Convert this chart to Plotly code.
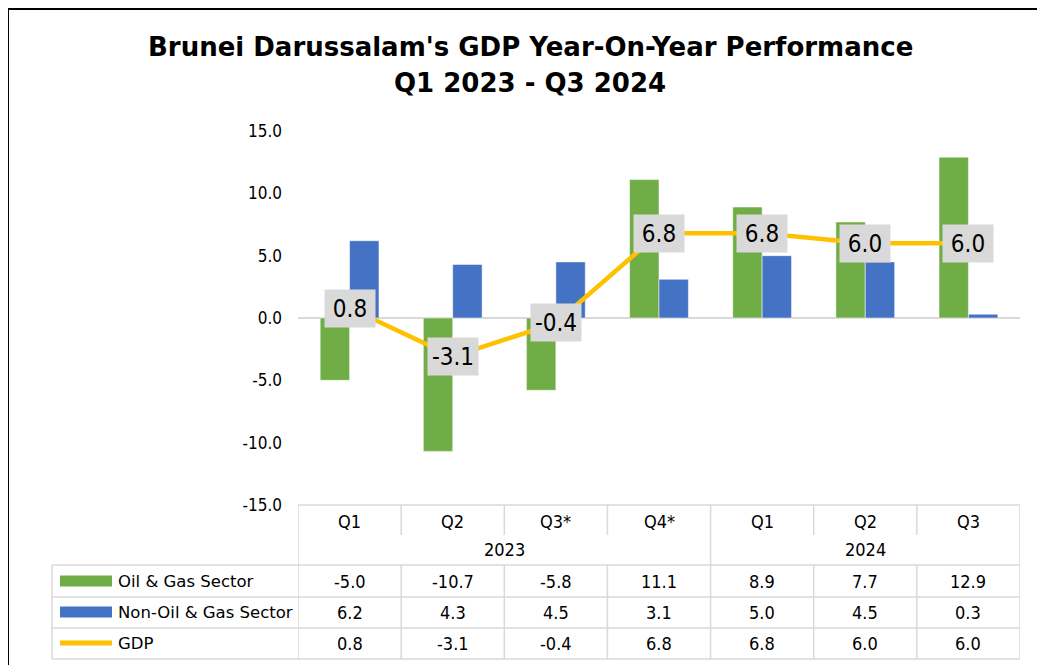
import plotly.graph_objects as go

quarters = ["Q1", "Q2", "Q3*", "Q4*", "Q1", "Q2", "Q3"]
years = ["2023", "2024"]
year_span = [(0, 3), (4, 6)]
oil_gas = [-5.0, -10.7, -5.8, 11.1, 8.9, 7.7, 12.9]
non_oil = [6.2, 4.3, 4.5, 3.1, 5.0, 4.5, 0.3]
gdp = [0.8, -3.1, -0.4, 6.8, 6.8, 6.0, 6.0]
series_names = ["Oil & Gas Sector", "Non-Oil & Gas Sector", "GDP"]
yticks = [-15, -10, -5, 0, 5, 10, 15]
ytick_text = [f"{v:.1f}" for v in yticks]

GREEN = "#70AD47"
BLUE = "#4472C4"
GOLD = "#FFC000"
GRID = "#D9D9D9"
FONT = "DejaVu Sans Condensed, DejaVu Sans, sans-serif"
FONT_W = "DejaVu Sans, sans-serif"

OFF = 8  # page body margin
PAGE_W, PAGE_H = 1045, 665
W, H = PAGE_W - OFF, PAGE_H - OFF
# plot area in page pixel coordinates
L, R, T, B = 298, 1020, 131, 505
PW, PH = R - L, B - T


def px(x):
    return (x - L) / PW


def py(y):
    return (B - y) / PH


xs = list(range(len(quarters)))

fig = go.Figure()
fig.add_trace(go.Bar(x=xs, y=oil_gas, name=series_names[0],
                     marker=dict(color=GREEN, line=dict(color="rgba(255,255,255,0.5)", width=1))))
fig.add_trace(go.Bar(x=xs, y=non_oil, name=series_names[1],
                     marker=dict(color=BLUE, line=dict(color="rgba(255,255,255,0.5)", width=1))))
fig.add_trace(go.Scatter(x=xs, y=gdp, name=series_names[2], mode="lines",
                         line=dict(color=GOLD, width=4.5)))

annotations = []
shapes = []

# data labels on GDP
for i, v in enumerate(gdp):
    annotations.append(dict(x=i, y=v, xref="x", yref="y", text=f"{v:.1f}",
                            showarrow=False, bgcolor=GRID, borderpad=2,
                            width=46, height=33,
                            font=dict(family=FONT, size=24, color="#000")))

# title
annotations.append(dict(x=px(530), y=py(47), xref="paper", yref="paper",
                        text="<b>Brunei Darussalam's GDP Year-On-Year Performance</b>",
                        showarrow=False, xanchor="center", yanchor="middle",
                        font=dict(family=FONT_W, size=26, color="#000")))
annotations.append(dict(x=px(530), y=py(83), xref="paper", yref="paper",
                        text="<b>Q1 2023 - Q3 2024</b>",
                        showarrow=False, xanchor="center", yanchor="middle",
                        font=dict(family=FONT_W, size=26, color="#000")))

tfont = dict(family=FONT, size=18, color="#000")
# table: quarter row
for i, q in enumerate(quarters):
    annotations.append(dict(x=i, y=py(521), xref="x", yref="paper", text=q,
                            showarrow=False, xanchor="center", yanchor="middle", font=tfont))
for (a, b), yr in zip(year_span, years):
    annotations.append(dict(x=(a + b) / 2, y=py(549), xref="x", yref="paper", text=yr,
                            showarrow=False, xanchor="center", yanchor="middle", font=tfont))
rows_y = [581, 612, 643]
for vals, ry in zip([oil_gas, non_oil, gdp], rows_y):
    for i, v in enumerate(vals):
        annotations.append(dict(x=i, y=py(ry), xref="x", yref="paper", text=f"{v:.1f}",
                                showarrow=False, xanchor="center", yanchor="middle",
                                font=tfont))
for name, ry in zip(series_names, rows_y):
    annotations.append(dict(x=px(116), y=py(ry), xref="paper", yref="paper", text=name,
                            showarrow=False, xanchor="left", yanchor="middle",
                            font=dict(family=FONT_W, size=16.5, color="#000")))

# legend keys
for col, ry in zip([GREEN, BLUE], rows_y[:2]):
    shapes.append(dict(type="rect", xref="paper", yref="paper", x0=px(60), x1=px(112),
                       y0=py(ry - 5.5), y1=py(ry + 5.5), fillcolor=col, line=dict(width=0)))
shapes.append(dict(type="line", xref="paper", yref="paper", x0=px(60), x1=px(112),
                   y0=py(643), y1=py(643), line=dict(color=GOLD, width=5)))

ln = dict(color=GRID, width=1.5)
# horizontal table lines
shapes.append(dict(type="line", xref="paper", yref="paper", x0=0, x1=1, y0=py(505), y1=py(505), line=ln))
for yy in [565, 597, 628, 659]:
    shapes.append(dict(type="line", xref="paper", yref="paper", x0=px(52), x1=1,
                       y0=py(yy), y1=py(yy), line=ln))
# vertical table lines
n = len(quarters)
for k in range(n + 1):
    xb = k - 0.5
    full = k in (0, n) or any(k == b + 1 for (a, b) in year_span[:-1])
    y1 = 659 if full else 535
    shapes.append(dict(type="line", xref="x", yref="paper", x0=xb, x1=xb,
                       y0=py(505), y1=py(y1), line=ln))
    if not full:
        shapes.append(dict(type="line", xref="x", yref="paper", x0=xb, x1=xb,
                           y0=py(565), y1=py(659), line=ln))
shapes.append(dict(type="line", xref="paper", yref="paper", x0=px(52), x1=px(52),
                   y0=py(565), y1=py(659), line=ln))

# outer border (left and top edges only are visible)
border = dict(color="#000", width=2)
shapes.append(dict(type="line", xref="paper", yref="paper", x0=px(8), x1=px(1100),
                   y0=py(9), y1=py(9), line=border))
shapes.append(dict(type="line", xref="paper", yref="paper", x0=px(8), x1=px(8),
                   y0=py(8), y1=py(720), line=border))

fig.update_layout(
    width=W, height=H,
    margin=dict(l=L - OFF, r=W - (R - OFF), t=T - OFF, b=H - (B - OFF), pad=0),
    paper_bgcolor="white", plot_bgcolor="white",
    barmode="group", bargap=0.43, bargroupgap=0,
    showlegend=False,
    annotations=annotations, shapes=shapes,
    font=dict(family=FONT),
)
fig.update_xaxes(range=[-0.5, n - 0.5], showticklabels=False, showgrid=False,
                 zeroline=False, showline=False, ticks="")
fig.update_yaxes(range=[-15, 15], tickvals=yticks, ticktext=ytick_text, showgrid=False,
                 zeroline=True, zerolinecolor=GRID, zerolinewidth=1.5, showline=False,
                 ticks="", ticklabelstandoff=15,
                 tickfont=dict(family=FONT, size=17, color="#000"))

fig.write_html("out.html",
               post_script="document.documentElement.style.overflow='hidden';"
                           "document.body.style.overflow='hidden';")
